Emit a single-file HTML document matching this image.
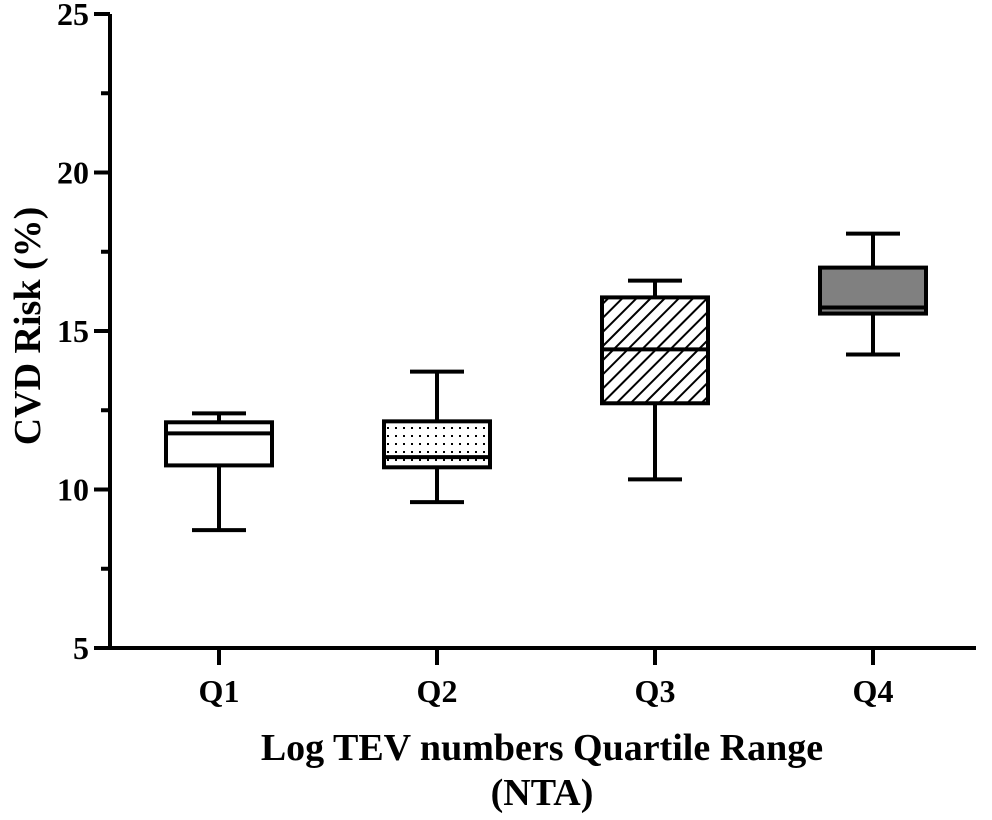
<!DOCTYPE html>
<html><head><meta charset="utf-8"><style>
body{margin:0;background:#fff}
svg text{font-family:"Liberation Serif",serif;font-weight:bold;fill:#000}
</style></head><body>
<svg id="chart" width="992" height="815" xmlns="http://www.w3.org/2000/svg">
<defs>
<pattern id="dots" width="8" height="8" patternUnits="userSpaceOnUse"><rect width="8" height="8" fill="#fff"/><rect x="3" y="3" width="2" height="2" fill="#000"/></pattern>
<pattern id="hatch" width="10" height="10" patternUnits="userSpaceOnUse" patternTransform="rotate(45)"><rect width="10" height="10" fill="#fff"/><rect x="0" y="0" width="2" height="10" fill="#000"/></pattern>
</defs>
<g id="axes"></g>
<g id="boxes"></g>
<text transform="translate(40,326) rotate(-90)" text-anchor="middle" font-size="38">CVD Risk (%)</text>
<text x="542" y="760" text-anchor="middle" font-size="38">Log TEV numbers Quartile Range</text>
<text x="542" y="805" text-anchor="middle" font-size="38">(NTA)</text>
</svg>
<script>
const categories=["Q1","Q2","Q3","Q4"];
const whiskerLow=[8.72,9.6,10.32,14.26];
const q1Vals=[10.76,10.7,12.72,15.55];
const medians=[11.77,11.02,14.42,15.74];
const q3Vals=[12.12,12.15,16.06,17.0];
const whiskerHigh=[12.4,13.72,16.59,18.07];
const fills=["#fff","url(#dots)","url(#hatch)","#808080"];
const yTicks=[5,10,15,20,25];
const yMinor=[7.5,12.5,17.5,22.5];
const NS="http://www.w3.org/2000/svg";
const X0=110,Y0=648,Ytop=14,XEND=976;
function y(v){return Y0-(v-5)*(Y0-Ytop)/20;}
function x(i){return 219+i*218;}
function mk(parent,tag,attrs){const e=document.createElementNS(NS,tag);for(const k in attrs)e.setAttribute(k,attrs[k]);parent.appendChild(e);return e;}
const axes=document.getElementById('axes');
let l=mk(axes,'line',{x1:X0,y1:Ytop,x2:X0,y2:Y0+2,stroke:'#000','stroke-width':4});


l=mk(axes,'line',{x1:X0-2,y1:Y0,x2:XEND,y2:Y0,stroke:'#000','stroke-width':4});


yTicks.forEach(v=>{
 const t=mk(axes,'line',{x1:94,y1:y(v),x2:X0,y2:y(v),stroke:'#000','stroke-width':4});
 
 
 const tx=mk(axes,'text',{x:89,y:y(v)+11,'text-anchor':'end','font-size':32});
 tx.textContent=v;
 
 
});
yMinor.forEach(v=>{
 const t=mk(axes,'line',{x1:101,y1:y(v),x2:X0,y2:y(v),stroke:'#000','stroke-width':4});
 
 
});
const boxes=document.getElementById('boxes');
categories.forEach((c,i)=>{
 const cx=x(i);
 const t=mk(axes,'line',{x1:cx,y1:Y0,x2:cx,y2:665,stroke:'#000','stroke-width':4});
 
 
 const tx=mk(axes,'text',{x:cx,y:702,'text-anchor':'middle','font-size':32});
 tx.textContent=c;
 
 
 const g=mk(boxes,'g',{});
 
 
 const st={stroke:'#000','stroke-width':4};
 mk(g,'line',Object.assign({x1:cx,y1:y(whiskerHigh[i]),x2:cx,y2:y(q3Vals[i])},st));
 mk(g,'line',Object.assign({x1:cx,y1:y(whiskerLow[i]),x2:cx,y2:y(q1Vals[i])},st));
 mk(g,'line',Object.assign({x1:cx-27,y1:y(whiskerHigh[i]),x2:cx+27,y2:y(whiskerHigh[i])},st));
 mk(g,'line',Object.assign({x1:cx-27,y1:y(whiskerLow[i]),x2:cx+27,y2:y(whiskerLow[i])},st));
 mk(g,'rect',Object.assign({x:cx-53,y:y(q3Vals[i]),width:106,height:y(q1Vals[i])-y(q3Vals[i]),fill:fills[i]},st));
 mk(g,'line',Object.assign({x1:cx-53,y1:y(medians[i]),x2:cx+53,y2:y(medians[i])},st));
});
</script>
</body></html>
